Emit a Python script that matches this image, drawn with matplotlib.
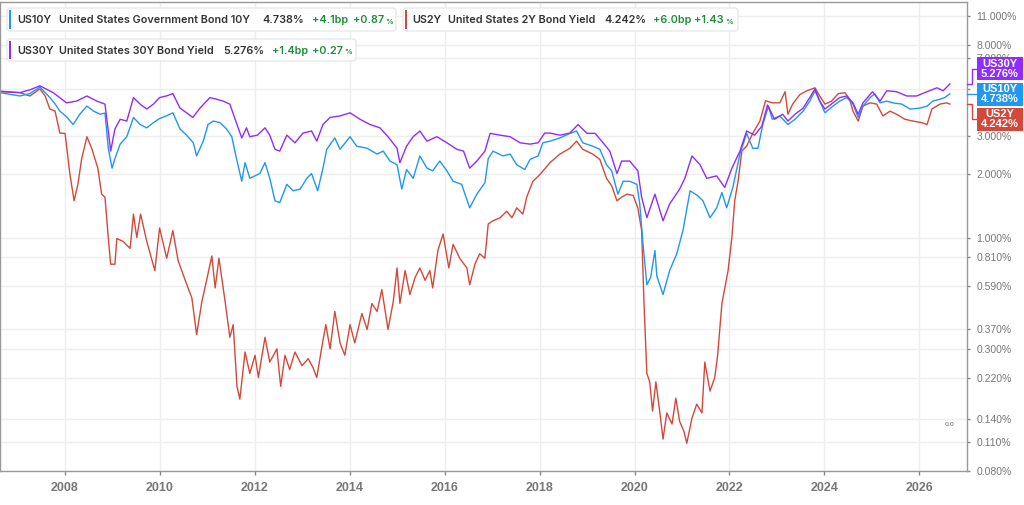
import numpy as np
import matplotlib.pyplot as plt
from matplotlib.patches import FancyBboxPatch, Rectangle
from matplotlib.lines import Line2D
from matplotlib.ticker import NullLocator

# ---- data (decimal years, yield in %) ----
t10 = [2006.64, 2007.06, 2007.27, 2007.48, 2007.69, 2007.80, 2007.90, 2008.04, 2008.18, 2008.32,
       2008.47, 2008.61, 2008.75, 2008.85, 2008.92, 2009.00, 2009.06, 2009.17, 2009.31, 2009.45,
       2009.59, 2009.73, 2009.87, 2010.00, 2010.14, 2010.28, 2010.43, 2010.57, 2010.71, 2010.78,
       2010.92, 2011.02, 2011.13, 2011.27, 2011.41, 2011.52, 2011.62, 2011.73, 2011.80, 2011.90,
       2012.11, 2012.22, 2012.32, 2012.43, 2012.53, 2012.68, 2012.81, 2012.96, 2013.10, 2013.20,
       2013.33, 2013.44, 2013.52, 2013.69, 2013.80, 2014.01, 2014.15, 2014.37, 2014.58, 2014.71,
       2014.85, 2015.00, 2015.10, 2015.20, 2015.34, 2015.48, 2015.63, 2015.75, 2015.90, 2016.05,
       2016.18, 2016.36, 2016.53, 2016.68, 2016.85, 2016.92, 2017.02, 2017.23, 2017.38, 2017.52,
       2017.69, 2017.80, 2017.97, 2018.07, 2018.22, 2018.43, 2018.64, 2018.78, 2018.91, 2019.12,
       2019.27, 2019.41, 2019.52, 2019.65, 2019.76, 2019.90, 2020.05, 2020.11, 2020.18, 2020.26,
       2020.34, 2020.43, 2020.47, 2020.60, 2020.74, 2020.89, 2021.02, 2021.17, 2021.32, 2021.44,
       2021.59, 2021.73, 2021.84, 2021.94, 2022.07, 2022.22, 2022.36, 2022.49, 2022.60, 2022.70,
       2022.82, 2022.90, 2023.06, 2023.23, 2023.38, 2023.55, 2023.69, 2023.80, 2023.90, 2024.01,
       2024.18, 2024.32, 2024.47, 2024.60, 2024.71, 2024.81, 2024.96, 2025.06, 2025.17, 2025.31,
       2025.44, 2025.63, 2025.80, 2026.01, 2026.16, 2026.28, 2026.43, 2026.53, 2026.64]
v10 = [4.80, 4.63, 4.75, 5.10, 4.55, 4.25, 3.93, 3.70, 3.40, 3.80,
       4.15, 3.93, 3.80, 3.85, 2.63, 2.12, 2.35, 2.75, 2.98, 3.67,
       3.40, 3.28, 3.47, 3.63, 3.73, 3.86, 3.24, 3.03, 2.79, 2.42,
       2.84, 3.40, 3.53, 3.47, 3.24, 2.98, 2.35, 1.84, 2.25, 1.90,
       2.00, 2.25, 1.90, 1.49, 1.46, 1.78, 1.66, 1.69, 1.90, 2.00,
       1.66, 2.12, 2.60, 2.94, 2.60, 2.98, 2.69, 2.63, 2.47, 2.55,
       2.29, 2.20, 1.69, 2.09, 1.90, 2.42, 2.12, 2.06, 2.29, 2.06,
       1.84, 1.78, 1.38, 1.60, 1.81, 2.35, 2.55, 2.42, 2.47, 2.20,
       2.09, 2.33, 2.42, 2.79, 2.84, 2.94, 3.09, 3.17, 2.79, 2.69,
       2.60, 2.20, 2.06, 1.60, 1.84, 1.84, 1.78, 1.44, 0.93, 0.60,
       0.65, 0.87, 0.66, 0.54, 0.70, 0.84, 1.08, 1.66, 1.58, 1.49,
       1.24, 1.38, 1.63, 1.38, 1.72, 2.47, 3.09, 2.63, 2.63, 3.40,
       4.15, 3.60, 3.73, 3.40, 3.60, 3.93, 4.38, 4.90, 4.38, 3.86,
       4.15, 4.38, 4.55, 4.24, 3.67, 4.15, 4.55, 4.74, 4.30, 4.38,
       4.30, 4.24, 4.02, 4.06, 4.15, 4.38, 4.47, 4.55, 4.738]

t30 = [2006.64, 2007.06, 2007.27, 2007.48, 2007.76, 2008.04, 2008.25, 2008.47, 2008.68, 2008.85,
       2008.92, 2008.97, 2009.06, 2009.17, 2009.31, 2009.45, 2009.59, 2009.73, 2009.87, 2010.00,
       2010.14, 2010.28, 2010.43, 2010.57, 2010.70, 2010.85, 2011.06, 2011.20, 2011.34, 2011.48,
       2011.63, 2011.73, 2011.83, 2011.90, 2012.06, 2012.22, 2012.32, 2012.43, 2012.53, 2012.68,
       2012.85, 2013.02, 2013.20, 2013.31, 2013.44, 2013.59, 2013.80, 2014.01, 2014.22, 2014.43,
       2014.64, 2014.81, 2015.00, 2015.06, 2015.20, 2015.34, 2015.48, 2015.63, 2015.84, 2016.05,
       2016.26, 2016.40, 2016.53, 2016.68, 2016.85, 2016.96, 2017.17, 2017.38, 2017.59, 2017.80,
       2017.97, 2018.11, 2018.22, 2018.43, 2018.64, 2018.81, 2019.00, 2019.17, 2019.31, 2019.48,
       2019.63, 2019.73, 2019.90, 2020.07, 2020.15, 2020.26, 2020.43, 2020.60, 2020.74, 2020.95,
       2021.06, 2021.21, 2021.38, 2021.52, 2021.73, 2021.90, 2022.05, 2022.22, 2022.36, 2022.53,
       2022.68, 2022.80, 2022.95, 2023.12, 2023.23, 2023.38, 2023.55, 2023.69, 2023.80, 2023.90,
       2024.01, 2024.18, 2024.32, 2024.47, 2024.60, 2024.71, 2024.81, 2025.01, 2025.17, 2025.31,
       2025.52, 2025.73, 2025.94, 2026.16, 2026.37, 2026.50, 2026.64]
v30 = [4.88, 4.80, 4.95, 5.17, 4.80, 4.30, 4.38, 4.63, 4.38, 4.24,
       3.17, 2.55, 3.24, 3.60, 3.53, 4.55, 4.24, 4.02, 4.24, 4.55,
       4.63, 4.75, 4.06, 3.86, 3.67, 4.06, 4.55, 4.47, 4.38, 4.24,
       3.40, 2.94, 3.28, 2.98, 3.03, 3.28, 3.03, 2.60, 2.55, 3.03,
       2.79, 3.10, 3.17, 2.84, 3.40, 3.67, 3.73, 3.86, 3.60, 3.40,
       3.28, 2.98, 2.63, 2.25, 2.69, 2.98, 3.17, 2.84, 2.98, 2.79,
       2.60, 2.55, 2.12, 2.29, 2.55, 3.09, 3.03, 2.98, 2.79, 2.75,
       2.79, 3.10, 3.10, 3.03, 3.10, 3.40, 3.09, 3.09, 2.84, 2.55,
       2.00, 2.29, 2.29, 2.06, 1.55, 1.24, 1.60, 1.20, 1.44, 1.69,
       1.90, 2.42, 2.20, 1.90, 1.95, 1.72, 2.12, 2.55, 3.17, 3.03,
       3.34, 4.20, 3.60, 3.80, 3.53, 3.80, 4.06, 4.55, 5.00, 4.38,
       4.02, 4.30, 4.55, 4.63, 4.30, 3.80, 4.30, 4.85, 4.38, 4.90,
       4.85, 4.63, 4.63, 4.85, 5.06, 4.90, 5.276]

t2 = [2006.64, 2007.06, 2007.27, 2007.48, 2007.59, 2007.69, 2007.80, 2007.90, 2008.01, 2008.11,
      2008.20, 2008.28, 2008.36, 2008.47, 2008.57, 2008.70, 2008.78, 2008.85, 2008.92, 2008.97,
      2009.06, 2009.10, 2009.23, 2009.38, 2009.45, 2009.52, 2009.60, 2009.73, 2009.90, 2010.00,
      2010.15, 2010.28, 2010.39, 2010.54, 2010.68, 2010.78, 2010.89, 2010.99, 2011.10, 2011.17,
      2011.25, 2011.38, 2011.48, 2011.55, 2011.63, 2011.69, 2011.80, 2011.90, 2012.01, 2012.08,
      2012.22, 2012.32, 2012.47, 2012.55, 2012.64, 2012.74, 2012.85, 2013.00, 2013.13, 2013.23,
      2013.31, 2013.41, 2013.50, 2013.59, 2013.69, 2013.80, 2013.90, 2014.01, 2014.11, 2014.26,
      2014.37, 2014.47, 2014.58, 2014.68, 2014.81, 2014.92, 2015.00, 2015.06, 2015.17, 2015.27,
      2015.38, 2015.48, 2015.59, 2015.69, 2015.75, 2015.86, 2015.97, 2016.09, 2016.18, 2016.32,
      2016.47, 2016.53, 2016.64, 2016.74, 2016.85, 2016.92, 2017.02, 2017.17, 2017.31, 2017.42,
      2017.52, 2017.65, 2017.73, 2017.86, 2018.01, 2018.22, 2018.43, 2018.64, 2018.78, 2018.91,
      2019.12, 2019.27, 2019.41, 2019.52, 2019.63, 2019.73, 2019.84, 2019.97, 2020.07, 2020.15,
      2020.20, 2020.26, 2020.32, 2020.38, 2020.45, 2020.53, 2020.60, 2020.68, 2020.79, 2020.87,
      2020.95, 2021.04, 2021.10, 2021.21, 2021.31, 2021.42, 2021.48, 2021.59, 2021.69, 2021.75,
      2021.84, 2021.97, 2022.05, 2022.11, 2022.18, 2022.26, 2022.36, 2022.49, 2022.64, 2022.76,
      2022.90, 2023.06, 2023.17, 2023.23, 2023.33, 2023.48, 2023.63, 2023.80, 2023.90, 2024.01,
      2024.15, 2024.29, 2024.43, 2024.53, 2024.60, 2024.71, 2024.81, 2024.96, 2025.10, 2025.23,
      2025.38, 2025.52, 2025.69, 2025.86, 2026.05, 2026.16, 2026.26, 2026.43, 2026.57, 2026.64]
v2 = [4.85, 4.80, 4.63, 5.00, 4.63, 4.02, 3.93, 3.10, 3.09, 2.00,
      1.49, 1.78, 2.35, 2.98, 2.63, 2.12, 1.60, 1.55, 1.00, 0.75,
      0.75, 0.99, 0.96, 0.89, 1.29, 1.00, 1.29, 0.96, 0.70, 1.11,
      0.80, 1.08, 0.78, 0.63, 0.52, 0.35, 0.50, 0.63, 0.82, 0.58,
      0.80, 0.50, 0.34, 0.39, 0.20, 0.174, 0.29, 0.23, 0.28, 0.22,
      0.34, 0.26, 0.30, 0.20, 0.28, 0.24, 0.29, 0.25, 0.27, 0.245,
      0.22, 0.30, 0.39, 0.30, 0.45, 0.32, 0.28, 0.39, 0.32, 0.44,
      0.37, 0.49, 0.45, 0.57, 0.37, 0.50, 0.72, 0.49, 0.70, 0.54,
      0.65, 0.72, 0.63, 0.70, 0.58, 0.87, 1.04, 0.72, 0.93, 0.80,
      0.72, 0.60, 0.75, 0.84, 0.80, 1.16, 1.20, 1.24, 1.33, 1.24,
      1.38, 1.29, 1.55, 1.84, 1.98, 2.25, 2.47, 2.63, 2.84, 2.60,
      2.47, 2.33, 1.90, 1.75, 1.49, 1.55, 1.60, 1.58, 1.38, 1.08,
      0.49, 0.23, 0.21, 0.153, 0.21, 0.153, 0.113, 0.15, 0.133, 0.176,
      0.137, 0.123, 0.108, 0.142, 0.165, 0.15, 0.26, 0.19, 0.22, 0.28,
      0.49, 0.70, 1.00, 1.49, 1.84, 2.55, 2.69, 3.09, 3.53, 4.40,
      4.30, 4.30, 4.85, 3.80, 4.24, 4.70, 4.90, 5.06, 4.63, 4.24,
      4.38, 4.75, 4.80, 4.47, 3.93, 3.53, 4.15, 4.30, 4.24, 3.73,
      3.93, 3.80, 3.60, 3.53, 3.47, 3.40, 4.02, 4.24, 4.30, 4.242]

codes = ['US10Y', 'US2Y', 'US30Y']
titles = ['United States Government Bond 10Y', 'United States 2Y Bond Yield', 'United States 30Y Bond Yield']
last_txt = ['4.738%', '4.242%', '5.276%']
chg_bp = ['+4.1bp', '+6.0bp', '+1.4bp']
chg_pct = ['+0.87', '+1.43', '+0.27']

ytick_vals = [0.08, 0.11, 0.14, 0.22, 0.30, 0.37, 0.59, 0.81, 1.0, 2.0, 3.0, 5.0, 7.0, 8.0, 11.0]
xtick_years = list(range(2008, 2027, 2))

c10, c2, c30 = '#2196f3', '#d4483b', '#8f2cff'
txt_dark = '#333333'
green = '#1e8c3a'

fig = plt.figure(figsize=(10.24, 5.05), dpi=100)
ax = fig.add_axes([0.0, 0.0673, 0.9443, 0.9287])

ax.plot(t2, v2, color=c2, lw=1.0)
ax.plot(t10, v10, color=c10, lw=1.0)
ax.plot(t30, v30, color=c30, lw=1.0)

ax.set_yscale('log')
ax.set_ylim(0.08, 12.8)
ax.set_xlim(2006.64, 2027.0)
ax.yaxis.set_minor_locator(NullLocator())
ax.yaxis.tick_right()
ax.set_yticks(ytick_vals)
ax.set_yticklabels(['%.3f%%' % v for v in ytick_vals], family='Liberation Sans')
ax.set_xticks(xtick_years)
ax.set_xticklabels([str(y) for y in xtick_years], family='Liberation Sans', fontweight='bold')
ax.tick_params(axis='y', length=2, width=1, color='#888888', labelsize=7.5, labelcolor='#777777', pad=5)
ax.tick_params(axis='x', length=3, width=1, color='#888888', labelsize=9, labelcolor='#777777', pad=5)
ax.grid(True, color='#eeeeee', lw=1)
ax.set_axisbelow(True)
for s in ax.spines.values():
    s.set_color('#999999')
    s.set_linewidth(1)

ax.text(0.987, 0.10, '0.0', fontsize=4.5, color='#555555', ha='right', va='center',
        transform=ax.transAxes)

# value badges on the right (they sit over the 5% / 7% tick labels, as in the original)
badges = [(v30[-1], 'US30Y', last_txt[2], c30, 0.858),
          (v10[-1], 'US10Y', last_txt[0], c10, 0.803),
          (v2[-1], 'US2Y', last_txt[1], c2, 0.7505)]
bx0, bw, bh = 1.0103, 0.0476, 0.049
for val, code, txt, col, yb in badges:
    ya = ax.transAxes.inverted().transform(ax.transData.transform((2027.0, val)))[1]
    ax.add_line(Line2D([1.0, 1.005, 1.005, bx0], [ya, ya, yb, yb], color=col, lw=1,
                       transform=ax.transAxes, clip_on=False, zorder=9))
    ax.add_patch(Rectangle((bx0, yb - bh / 2), bw, bh, facecolor=col, edgecolor='none',
                           transform=ax.transAxes, clip_on=False, zorder=10))
    ax.text(bx0 + bw / 2, yb, code + '\n' + txt, color='white', fontsize=8, fontweight='bold',
            family='Liberation Sans', ha='center', va='center', linespacing=1.0,
            transform=ax.transAxes, clip_on=False, zorder=11)

# legend chips at the top, positioned in pixels
tr = fig.dpi_scale_trans
def P(px, py):
    return px / 100.0, (505 - py) / 100.0

chips = [
    (7, 396, 8, 31, c10, [(17, codes[0]), (59, titles[0]), (262, last_txt[0])], (312, chg_bp[0]), (353, chg_pct[0])),
    (403, 738, 8, 31, c2, [(412, codes[1]), (448, titles[1]), (604, last_txt[1])], (653, chg_bp[1]), (694, chg_pct[1])),
    (7, 356, 39, 61, c30, [(17, codes[2]), (59, titles[2]), (223, last_txt[2])], (272, chg_bp[2]), (312, chg_pct[2])),
]
for x0, x1, y0, y1, col, parts, bp, pct in chips:
    xa, ya = P(x0, y1)
    box = FancyBboxPatch((xa, ya), (x1 - x0) / 100.0, (y1 - y0) / 100.0,
                         boxstyle='round,pad=0,rounding_size=0.03', facecolor='white',
                         edgecolor='#e4e4e4', lw=0.8, transform=tr)
    fig.add_artist(box)
    xb, yb = P(x0 + 2, y1 - 2)
    fig.add_artist(Rectangle((xb, yb), 0.022, (y1 - y0 - 4) / 100.0, facecolor=col,
                             edgecolor='none', transform=tr))
    yc = (y0 + y1) / 2.0 + 0.5
    for px, s in parts:
        fig.text(*P(px, yc), s, transform=tr, fontsize=7.8, family='Inter', fontweight='semibold',
                 color=txt_dark, ha='left', va='center')
    fig.text(*P(bp[0], yc), bp[1], transform=tr, fontsize=7.8, family='Inter', fontweight='semibold',
             color=green, ha='left', va='center')
    tp = fig.text(*P(pct[0], yc), pct[1], transform=tr, fontsize=7.8, family='Inter',
                  fontweight='semibold', color=green, ha='left', va='center')
    # small percent sign placed right after the change value
    fig.add_artist(plt.Annotation('%', xy=(1, 0), xycoords=tp, xytext=(1, 0.3),
                                  textcoords='offset points', fontsize=5.5, family='Inter',
                                  fontweight='semibold', color=green, ha='left', va='bottom'))

fig.savefig('out.png', dpi=100)
